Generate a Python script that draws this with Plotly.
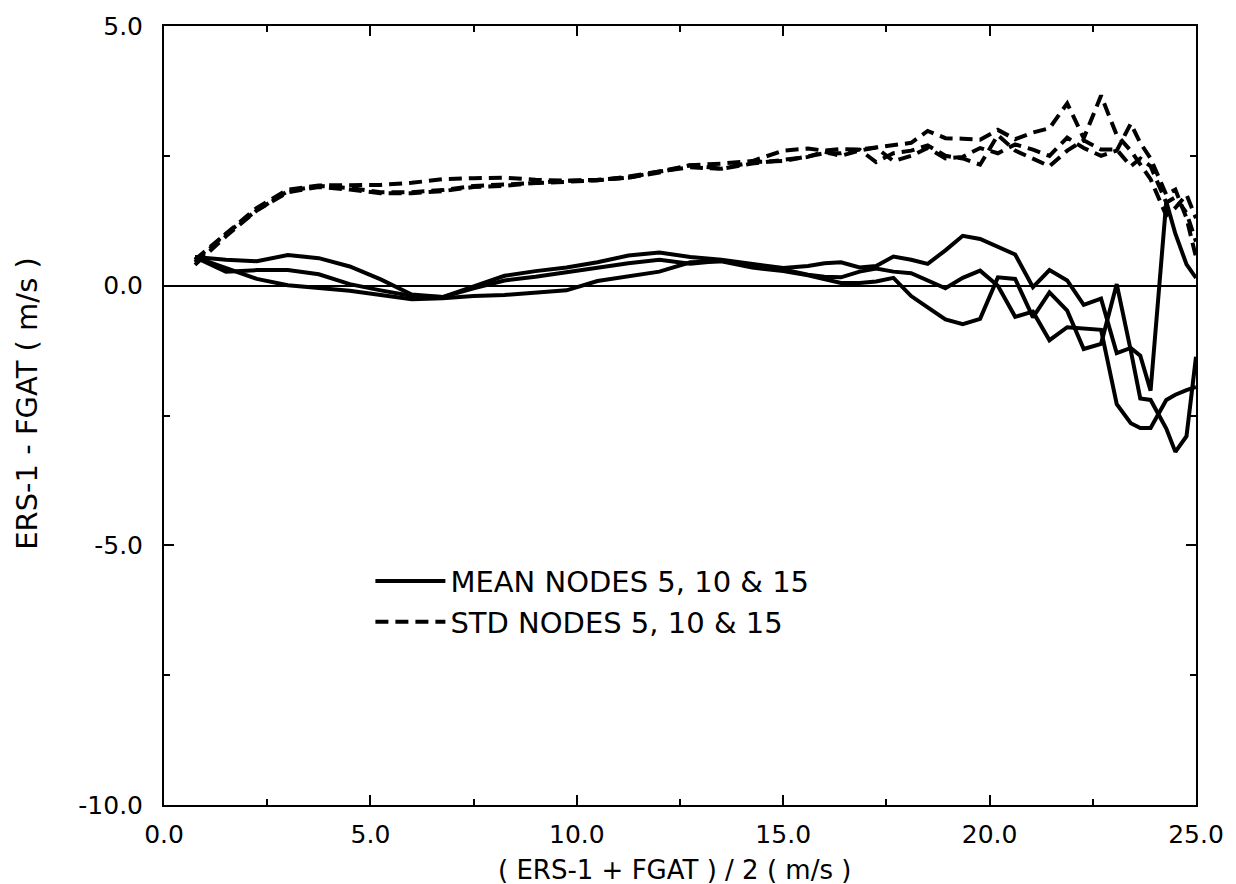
import plotly.graph_objects as go

# Wind-speed bins (m/s)
x_bins = [0.75, 1.5, 2.25, 3.0, 3.75, 4.5, 5.25, 6.0, 6.75, 7.5,
          8.25, 9.0, 9.75, 10.5, 11.25, 12.0, 12.75, 13.5, 14.25, 15.0,
          15.6, 16.0, 16.4, 16.85, 17.25, 17.67, 18.1, 18.5, 18.93, 19.35,
          19.77, 20.2, 20.62, 21.05, 21.45, 21.88, 22.28, 22.7, 23.08, 23.42,
          23.65, 23.9, 24.28, 24.5, 24.77, 25.0]

# Mean differences, nodes 5, 10 & 15
mean_a = [0.55, 0.5, 0.47, 0.59, 0.53, 0.37, 0.12, -0.17, -0.22, -0.01,
          0.19, 0.28, 0.35, 0.45, 0.58, 0.64, 0.55, 0.5, 0.42, 0.34,
          0.38, 0.43, 0.45, 0.35, 0.38, 0.56, 0.5, 0.42, 0.68, 0.96,
          0.9, 0.75, 0.6, -0.03, 0.3, 0.1, -0.37, -0.25, -1.3, -1.2,
          -1.35, -2.02, 1.62, 1.0, 0.41, 0.15]
mean_b = [0.55, 0.27, 0.3, 0.3, 0.22, 0.03, -0.09, -0.2, -0.22, -0.05,
          0.1, 0.17, 0.26, 0.35, 0.43, 0.5, 0.42, 0.48, 0.4, 0.31,
          0.21, 0.17, 0.16, 0.27, 0.33, 0.27, 0.24, 0.1, -0.05, 0.15,
          0.29, 0.0, -0.6, -0.5, -1.05, -0.8, -0.82, -0.85, -2.28, -2.65,
          -2.74, -2.74, -2.2, -2.1, -2.01, -1.95]
mean_c = [0.55, 0.35, 0.13, 0.01, -0.04, -0.1, -0.18, -0.26, -0.24, -0.2,
          -0.18, -0.14, -0.09, 0.09, 0.18, 0.27, 0.45, 0.47, 0.35, 0.28,
          0.2, 0.12, 0.05, 0.05, 0.08, 0.15, -0.2, -0.42, -0.65, -0.74,
          -0.64, 0.16, 0.13, -0.61, -0.13, -0.48, -1.22, -1.12, 0.03, -1.25,
          -2.17, -2.2, -2.75, -3.2, -2.9, -1.37]

# Standard deviations, nodes 5, 10 & 15
std_a = [0.45, 1.0, 1.5, 1.85, 1.93, 1.93, 1.94, 1.98, 2.05, 2.07,
         2.08, 2.04, 2.02, 2.03, 2.1, 2.2, 2.32, 2.35, 2.4, 2.6,
         2.64, 2.6, 2.63, 2.62, 2.66, 2.7, 2.75, 2.98, 2.84, 2.83,
         2.81, 3.0, 2.82, 2.95, 3.03, 3.51, 2.84, 3.66, 2.9, 2.6,
         2.35, 2.05, 1.35, 1.5, 1.75, 1.3]
std_b = [0.5, 1.0, 1.45, 1.82, 1.92, 1.88, 1.8, 1.8, 1.84, 1.92,
         1.95, 1.97, 2.0, 2.03, 2.08, 2.2, 2.28, 2.25, 2.38, 2.4,
         2.5, 2.55, 2.55, 2.62, 2.38, 2.55, 2.6, 2.7, 2.5, 2.45,
         2.33, 2.9, 2.6, 2.45, 2.3, 2.6, 2.8, 2.62, 2.62, 2.3,
         2.45, 2.3, 1.6, 1.7, 1.4, 0.85]
std_c = [0.4, 0.95, 1.45, 1.8, 1.9, 1.85, 1.78, 1.78, 1.82, 1.9,
         1.92, 1.98, 2.02, 2.04, 2.08, 2.18, 2.32, 2.25, 2.35, 2.42,
         2.48, 2.58, 2.5, 2.6, 2.66, 2.4, 2.5, 2.65, 2.45, 2.48,
         2.65, 2.55, 2.72, 2.62, 2.5, 2.85, 2.65, 2.5, 2.6, 3.12,
         2.75, 2.45, 1.75, 1.85, 1.3, 0.55]

x_tick_vals = [0, 5, 10, 15, 20, 25]
x_tick_text = ["0.0", "5.0", "10.0", "15.0", "20.0", "25.0"]
y_tick_vals = [-10, -5, 0, 5]
y_tick_text = ["-10.0", "-5.0", "0.0", "5.0"]

FONT = "DejaVu Sans, Liberation Sans, Arial, sans-serif"

fig = go.Figure()

mean_series = [mean_a, mean_b, mean_c]
std_series = [std_a, std_b, std_c]

for i, s in enumerate(mean_series):
    fig.add_trace(go.Scatter(
        x=x_bins, y=s, mode="lines",
        line=dict(color="black", width=4),
        name="MEAN NODES 5, 10 &amp; 15", legendgroup="mean",
        showlegend=(i == 0)))

for i, s in enumerate(std_series):
    fig.add_trace(go.Scatter(
        x=x_bins, y=s, mode="lines",
        line=dict(color="black", width=4, dash="13px,7px"),
        name="STD NODES 5, 10 &amp; 15", legendgroup="std",
        showlegend=(i == 0)))

axis_common = dict(
    showline=True, linecolor="black", linewidth=2, mirror="allticks",
    ticks="inside", ticklen=10, tickwidth=1.5, tickcolor="black",
    showgrid=False,
    tickfont=dict(family=FONT, size=25, color="black"),
    minor=dict(dtick=2.5, ticks="inside", ticklen=6, tickwidth=1.5, tickcolor="black"),
)

fig.update_xaxes(range=[0, 25], tickmode="array", tickvals=x_tick_vals,
                 ticktext=x_tick_text, zeroline=False, ticklabelstandoff=6,
                 **axis_common)
fig.update_yaxes(range=[-10, 5], tickmode="array", tickvals=y_tick_vals,
                 ticktext=y_tick_text, zeroline=True, zerolinecolor="black",
                 zerolinewidth=1.5, ticklabelstandoff=14, **axis_common)

fig.update_layout(
    width=1236, height=884,
    margin=dict(l=164, r=38, t=20, b=79),
    paper_bgcolor="white", plot_bgcolor="white",
    font=dict(family=FONT, color="black"),
    legend=dict(x=0.2, y=0.32, xanchor="left", yanchor="top",
                bgcolor="rgba(0,0,0,0)", borderwidth=0,
                font=dict(family=FONT, size=29, color="black"),
                itemwidth=70, tracegroupgap=0),
    annotations=[
        dict(text="( ERS-1 + FGAT ) / 2 ( m/s )", xref="paper", yref="paper",
             x=0.495, y=-0.0835, xanchor="center", yanchor="middle",
             showarrow=False, font=dict(family=FONT, size=26, color="black")),
        dict(text="ERS-1 - FGAT ( m/s )", xref="paper", yref="paper",
             x=-0.133, y=0.516, xanchor="center", yanchor="middle", textangle=-90,
             showarrow=False, font=dict(family=FONT, size=29, color="black")),
    ],
)

fig.write_html("out.html")
